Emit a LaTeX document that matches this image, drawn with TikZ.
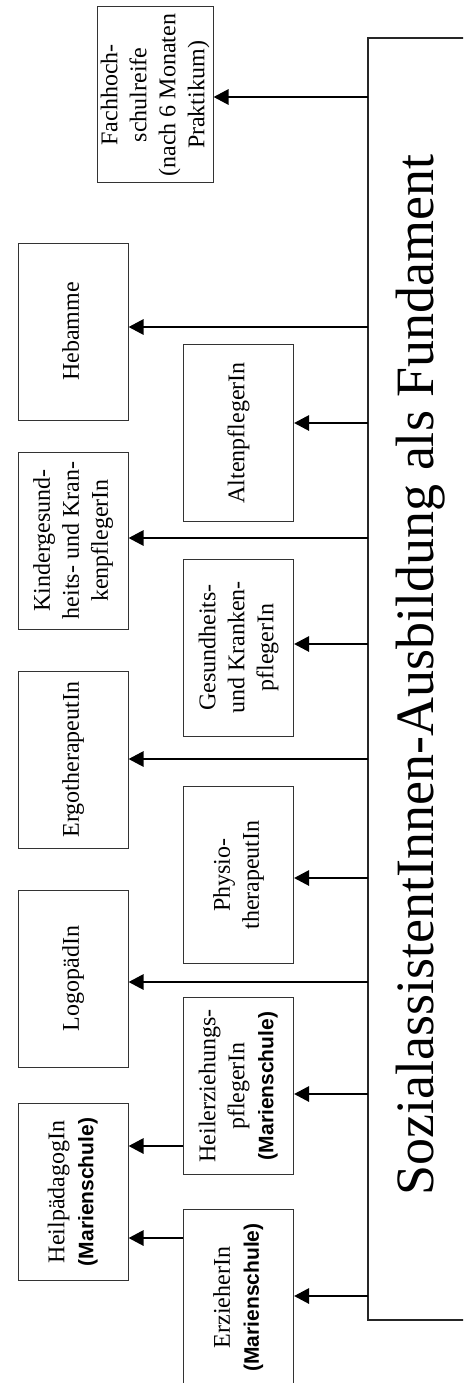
\documentclass[tikz,border=0pt]{standalone}
\usepackage{fontspec}
\usepackage{graphicx}
\setmainfont{Liberation Serif}
\newfontfamily\boldsans{Liberation Sans}
\newfontfamily\titlefont{Liberation Serif}
\usetikzlibrary{arrows.meta}
\newcommand{\ms}{{\boldsans\bfseries\fontsize{21}{29}\selectfont (Marienschule)}}
\newcommand{\rtext}[1]{\rotatebox{90}{\begin{tabular}{@{}c@{}}#1\end{tabular}}}
\begin{document}
\begin{tikzpicture}[x=1pt,y=-1pt,
  boxnode/.style={draw=black!80, line width=1pt, minimum width=110pt, minimum height=177pt,
    inner sep=0pt, font=\fontsize{24}{29}\selectfont, align=center},
  bignode/.style={draw=black!85, line width=1.4pt, minimum width=110pt, minimum height=1282pt, inner sep=0pt},
  arr/.style={line width=2.8pt, -{Triangle[length=15pt,width=15pt]}},
  titlenode/.style={inner sep=0pt}
]
\clip (0,0) rectangle (463,1383);
\fill[white] (0,0) rectangle (463,1383);

% big box and title
\node[bignode] (big) at (423,679) {};
\node[titlenode, anchor=base, rotate=90] (title) at (433,675) {\scalebox{2.25}{\titlefont\fontsize{24}{29}\selectfont SozialassistentInnen-Ausbildung als Fundament}};

% boxes
\node[boxnode, minimum height=176pt] (fhr) at (155,95) {\rtext{Fachhoch-\\schulreife\\(nach 6 Monaten\\Praktikum)}};
\node[boxnode] (heb)  at (73,331.5)   {\rtext{Hebamme}};
\node[boxnode] (alt)  at (238.5,433)  {\rtext{AltenpflegerIn}};
\node[boxnode] (kin)  at (73,540.5)   {\rtext{Kindergesund-\\heits- und Kran-\\kenpflegerIn}};
\node[boxnode] (ges)  at (238.5,647.5){\rtext{Gesundheits-\\und Kranken-\\pflegerIn}};
\node[boxnode] (ergo) at (73,759.5)   {\rtext{ErgotherapeutIn}};
\node[boxnode] (phy)  at (238.5,875)  {\rtext{Physio-\\therapeutIn}};
\node[boxnode] (logo) at (73,978.5)   {\rtext{LogopädIn}};
\node[boxnode] (hez)  at (238.5,1086) {\rtext{Heilerziehungs-\\pflegerIn\\\ms}};
\node[boxnode] (hpd)  at (73,1192)    {\rtext{HeilpädagogIn\\\ms}};
\node[boxnode] (erz)  at (238.5,1297.5){\rtext{ErzieherIn\\\ms}};

% arrow start points on the big box
\coordinate (sfhr)  at (368,97);
\coordinate (sheb)  at (368,327);
\coordinate (salt)  at (368,423);
\coordinate (skin)  at (368,538);
\coordinate (sges)  at (368,644);
\coordinate (sergo) at (368,759);
\coordinate (sphy)  at (368,878);
\coordinate (slogo) at (368,982);
\coordinate (shez)  at (368,1094);
\coordinate (serz)  at (368,1296);
\coordinate (hezhpd) at (184,1146);
\coordinate (erzhpd) at (184,1238);

\draw[arr] (sfhr)  -- (sfhr -| fhr.east);
\draw[arr] (sheb)  -- (sheb -| heb.east);
\draw[arr] (salt)  -- (salt -| alt.east);
\draw[arr] (skin)  -- (skin -| kin.east);
\draw[arr] (sges)  -- (sges -| ges.east);
\draw[arr] (sergo) -- (sergo -| ergo.east);
\draw[arr] (sphy)  -- (sphy -| phy.east);
\draw[arr] (slogo) -- (slogo -| logo.east);
\draw[arr] (shez)  -- (shez -| hez.east);
\draw[arr] (serz)  -- (serz -| erz.east);
\draw[arr] (hezhpd -| hez.west) -- (hezhpd -| hpd.east);
\draw[arr] (erzhpd -| erz.west) -- (erzhpd -| hpd.east);
\end{tikzpicture}
\end{document}
